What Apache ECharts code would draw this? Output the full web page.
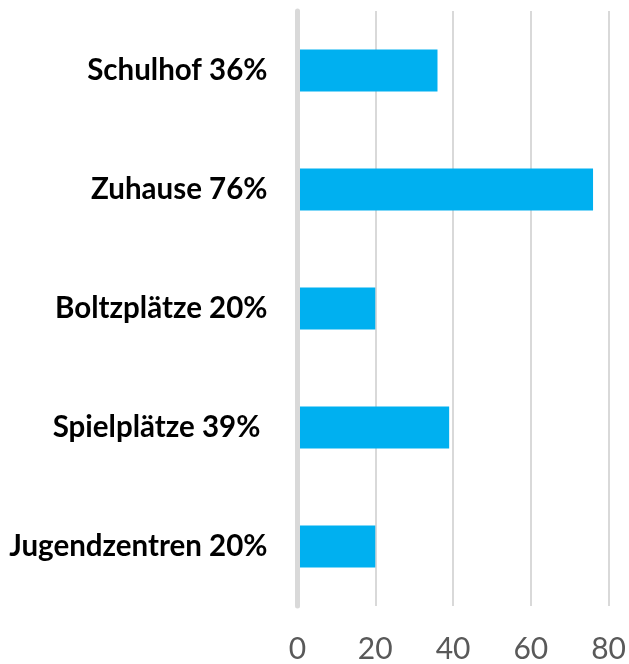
<!DOCTYPE html>
<html>
<head>
<meta charset="utf-8">
<script src="https://cdn.jsdelivr.net/npm/echarts@6/dist/echarts.min.js"></script>
<style>
  html, body { margin: 0; padding: 0; background: #fff; }
  #chart { width: 629px; height: 664px; }
</style>
</head>
<body>
<div id="chart"></div>
<script>
// places where kids spend time (share in %)
const categories = ['Schulhof 36%', 'Zuhause 76%', 'Boltzplätze 20%', 'Spielplätze 39% ', 'Jugendzentren 20%']
const values = [36, 76, 20, 39, 20]
const xMin = 0
const xMax = 80
const xStep = 20

const chart = echarts.init(document.getElementById('chart'))
chart.setOption({
  animation: false,
  grid: {
    left: 297.5,
    right: 14,
    top: 11,
    bottom: 55,
    containLabel: false
  },
  xAxis: {
    type: 'value',
    min: xMin,
    max: xMax,
    interval: xStep,
    axisLine: { show: false },
    axisTick: { show: false },
    axisLabel: {
      color: '#595959',
      fontFamily: 'Lato',
      fontSize: 30,
      margin: 28
    },
    splitLine: { lineStyle: { color: '#d9d9d9', width: 2 } }
  },
  yAxis: {
    type: 'category',
    inverse: true,
    data: categories,
    z: 5,
    axisLine: { lineStyle: { color: '#d9d9d9', width: 5 } },
    axisTick: { show: false },
    axisLabel: {
      color: '#000',
      fontFamily: 'Lato',
      fontWeight: 'bold',
      fontSize: 29.5,
      margin: 30
    }
  },
  series: [{
    type: 'bar',
    data: values,
    barWidth: 42,
    itemStyle: { color: '#00b0f0' }
  }]
})
</script>
</body>
</html>
